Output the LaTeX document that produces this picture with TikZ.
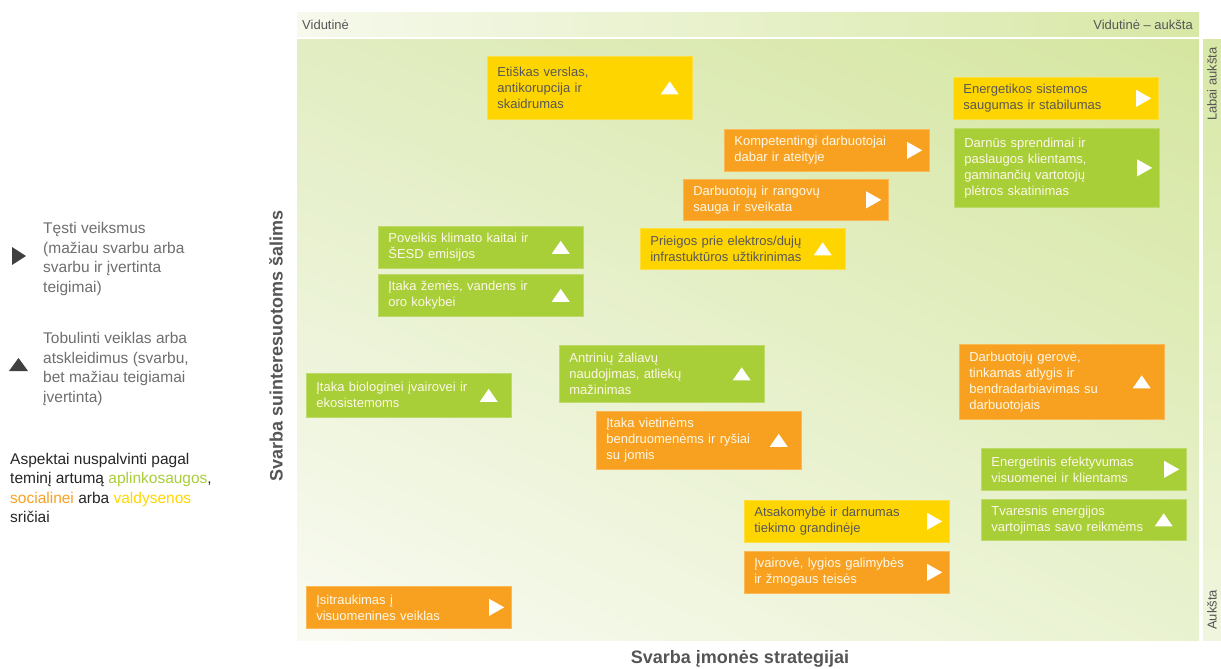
\documentclass[tikz,border=0pt]{standalone}
\usepackage{fontspec}
\setmainfont{Liberation Sans}
\usetikzlibrary{shadings}
\definecolor{ecogreen}{RGB}{168,206,56}
\definecolor{socorange}{RGB}{248,161,33}
\definecolor{govyellow}{RGB}{255,213,0}
\definecolor{lighttext}{RGB}{253,248,232}
\definecolor{darktext}{RGB}{88,88,88}
\definecolor{legendgrey}{RGB}{110,110,110}
\definecolor{legenddark}{RGB}{64,64,64}
\definecolor{axisgrey}{RGB}{85,85,85}
\definecolor{bgul}{RGB}{226,237,194}
\definecolor{bgur}{RGB}{213,230,160}
\definecolor{bgll}{RGB}{249,251,243}
\definecolor{bglr}{RGB}{233,242,208}
\definecolor{barlight}{RGB}{246,249,236}
\definecolor{bargreen}{RGB}{216,232,166}

\begin{document}
\begin{tikzpicture}[x=1pt, y=-1pt,
  every node/.style={font=\fontsize{13}{16}\selectfont},
  aspect/.style={anchor=north west, text width=185pt, inner xsep=10pt, inner ysep=0pt, align=left, line width=0.7pt},
  env/.style={aspect, fill=ecogreen, draw=ecogreen!75!white, text=lighttext},
  soc/.style={aspect, fill=socorange, draw=socorange!75!white, text=lighttext},
  gov/.style={aspect, fill=govyellow, draw=govyellow!75!white, text=darktext},
  legend/.style={anchor=west, align=left, inner sep=0pt, font=\fontsize{15.5}{19.5}\selectfont},
  axislabel/.style={text=axisgrey, font=\bfseries\fontsize{18}{20}\selectfont}]
  \def\triup#1{\fill[white] ([xshift=-23pt]#1.east) ++(-9,6.5) -- ++(18,0) -- ++(-9,-13) -- cycle;}
  \def\triright#1{\fill[white] ([xshift=-15pt]#1.east) ++(-7.5,-8.5) -- ++(0,17) -- ++(15,-8.5) -- cycle;}
  \useasboundingbox (0,0) rectangle (1221,669);

  % matrix background and scale bars
  \shade[upper left=bgul, upper right=bgur, lower left=bgll, lower right=bglr] (297,40) rectangle (1199,640);
  \shade[left color=barlight, right color=bargreen] (297,13) rectangle (1199,37);
  \shade[top color=bargreen, bottom color=barlight!80!bargreen] (1203,40) rectangle (1221,640);

  \node[anchor=west, inner sep=0pt, text=axisgrey] (vid) at (302,25) {Vidutinė};
  \node[anchor=east, inner sep=0pt, text=axisgrey] (vidauk) at (1193,25) {Vidutinė – aukšta};
  \node[rotate=90, anchor=east, inner sep=0pt, text=axisgrey] (labai) at (1212,47) {Labai aukšta};
  \node[rotate=90, anchor=west, inner sep=0pt, text=axisgrey] (auk) at (1212,630) {Aukšta};

  \node[axislabel, rotate=90] (ylab) at (276,346) {Svarba suinteresuotoms šalims};
  \node[axislabel] (xlab) at (740,659) {Svarba įmonės strategijai};

  % legend
  \fill[legenddark] (12,247) -- (12,265) -- (26,256) -- cycle;
  \node[legend, text=legendgrey] (testi) at (43,259) {Tęsti veiksmus\\(mažiau svarbu arba\\svarbu ir įvertinta\\teigimai)};
  \fill[legenddark] (9,371) -- (28,371) -- (18.5,358) -- cycle;
  \node[legend, text=legendgrey] (tobulinti) at (43,369) {Tobulinti veiklas arba\\atskleidimus (svarbu,\\bet mažiau teigiamai\\įvertinta)};
  \node[legend, text=black!85] (spalvos) at (10,488) {Aspektai nuspalvinti pagal\\teminį artumą \textcolor{ecogreen}{aplinkosaugos},\\\textcolor{socorange}{socialinei} arba \textcolor{govyellow}{valdysenos}\\sričiai};

  % aspects
  \node[gov, minimum height=63pt] (etika) at (487,56) {Etiškas verslas,\\antikorupcija ir\\skaidrumas};
  \node[gov, minimum height=42pt] (saugumas) at (953,77) {Energetikos sistemos\\saugumas ir stabilumas};
  \node[env, minimum height=79pt] (darnus) at (954,128) {Darnūs sprendimai ir\\paslaugos klientams,\\gaminančių vartotojų\\plėtros skatinimas};
  \node[soc, minimum height=42pt] (kompetencija) at (724,129) {Kompetentingi darbuotojai\\dabar ir ateityje};
  \node[soc, minimum height=41pt] (sauga) at (683,179) {Darbuotojų ir rangovų\\sauga ir sveikata};
  \node[gov, minimum height=41pt] (prieiga) at (640,228) {Prieigos prie elektros/dujų\\infrastuktūros užtikrinimas};
  \node[env, minimum height=42pt] (klimatas) at (378,226) {Poveikis klimato kaitai ir\\ŠESD emisijos};
  \node[env, minimum height=42pt] (kokybe) at (378,274) {Įtaka žemės, vandens ir\\oro kokybei};
  \node[env, minimum height=57pt] (zaliavos) at (559,345) {Antrinių žaliavų\\naudojimas, atliekų\\mažinimas};
  \node[env, minimum height=44pt] (ivairove) at (306,373) {Įtaka biologinei įvairovei ir\\ekosistemoms};
  \node[soc, minimum height=58pt] (bendruomenes) at (596,411) {Įtaka vietinėms\\bendruomenėms ir ryšiai\\su jomis};
  \node[soc, minimum height=75pt] (gerove) at (959,344) {Darbuotojų gerovė,\\tinkamas atlygis ir\\bendradarbiavimas su\\darbuotojais};
  \node[env, minimum height=42pt] (efektyvumas) at (981,448) {Energetinis efektyvumas\\visuomenei ir klientams};
  \node[env, minimum height=41pt] (vartojimas) at (981,499) {Tvaresnis energijos\\vartojimas savo reikmėms};
  \node[gov, minimum height=42pt] (tiekimas) at (744,500) {Atsakomybė ir darnumas\\tiekimo grandinėje};
  \node[soc, minimum height=42pt] (galimybes) at (744,551) {Įvairovė, lygios galimybės\\ir žmogaus teisės};
  \node[soc, minimum height=42pt] (visuomene) at (306,586) {Įsitraukimas į\\visuomenines veiklas};

  \triup{etika}
  \triright{saugumas}
  \triright{darnus}
  \triright{kompetencija}
  \triright{sauga}
  \triup{prieiga}
  \triup{klimatas}
  \triup{kokybe}
  \triup{zaliavos}
  \triup{ivairove}
  \triup{bendruomenes}
  \triup{gerove}
  \triright{efektyvumas}
  \triup{vartojimas}
  \triright{tiekimas}
  \triright{galimybes}
  \triright{visuomene}
\end{tikzpicture}
\end{document}
